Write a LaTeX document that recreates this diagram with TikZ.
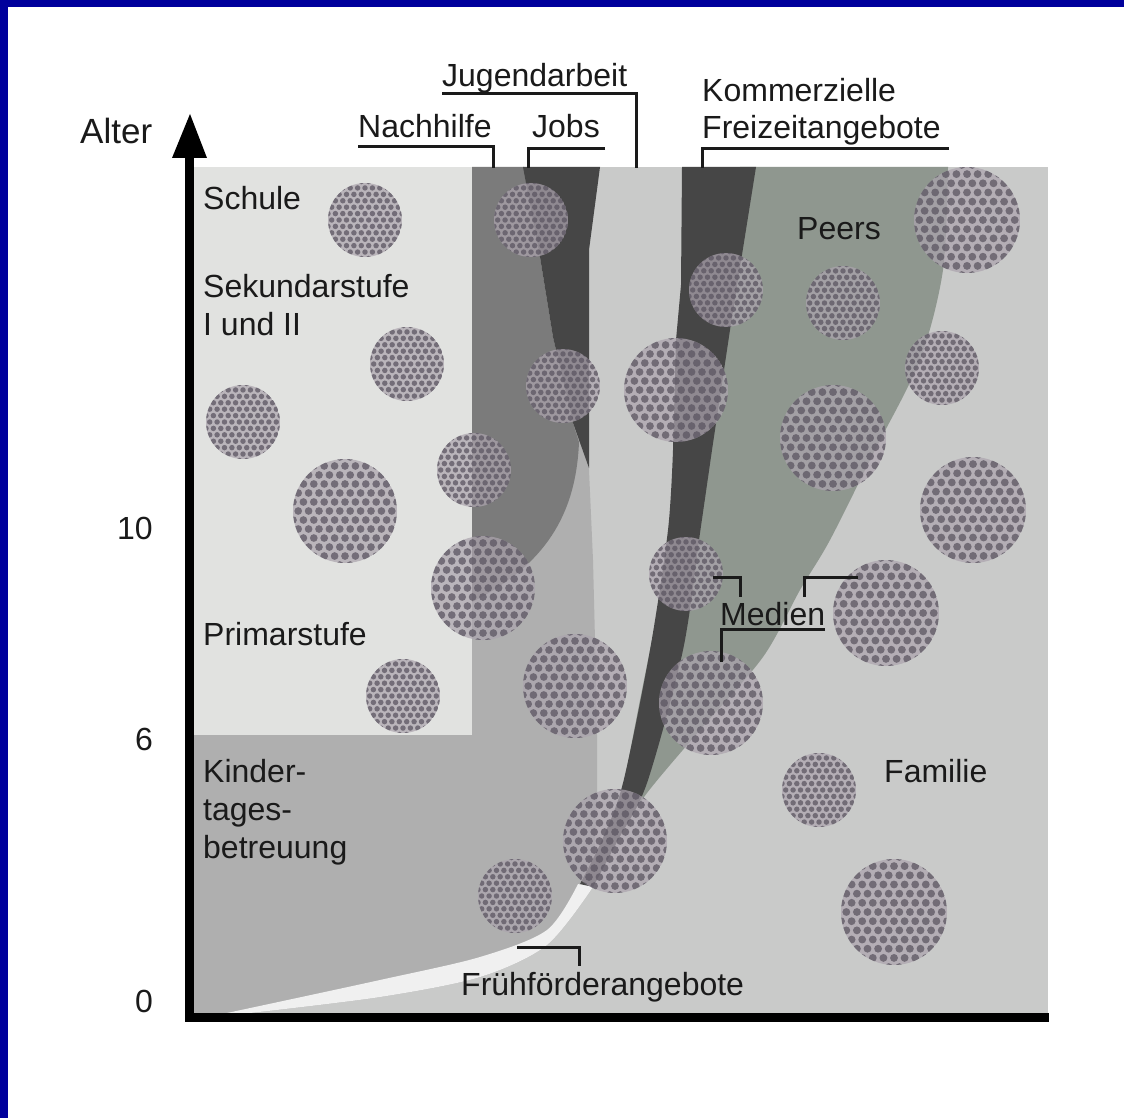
\documentclass[tikz,border=0pt]{standalone}
\usepackage{fontspec}
\setmainfont{Liberation Sans}
\definecolor{frame}{RGB}{0,0,156}
\definecolor{famc}{RGB}{201,202,201}
\definecolor{schc}{RGB}{225,226,224}
\definecolor{kitac}{RGB}{175,175,175}
\definecolor{nachc}{RGB}{123,123,123}
\definecolor{darkc}{RGB}{70,70,70}
\definecolor{peerc}{RGB}{143,151,143}
\definecolor{wbandc}{RGB}{240,240,240}
\definecolor{txt}{RGB}{26,26,26}
\definecolor{diskc}{RGB}{172,164,174}
\definecolor{cellc}{RGB}{92,86,98}
\newcommand\tdisk[3]{%
  \begin{scope}
    \pgfmathsetmacro\cellsp{#3/5}
    \pgfmathsetmacro\cellr{0.37*#3/5}
    \clip (#1,#2) circle[radius=#3];
    \fill[diskbase] (#1,#2) circle[radius=#3];
    \foreach \j in {0,...,14}{\foreach \i in {-7,...,6}{%
      \fill[cell] ({#1+\cellsp*(\i+0.5*mod(\j,2))},{#2+0.866*\cellsp*(\j-7)}) circle[radius=\cellr];}}
  \end{scope}}
\begin{document}
\begin{tikzpicture}[x=1pt,y=-1pt,
  lbl/.style={inner sep=0pt, anchor=base west, text=txt, font=\fontsize{32}{38}\selectfont},
  nums/.style={inner sep=0pt, anchor=base east, text=txt, font=\fontsize{32}{38}\selectfont},
  leader/.style={draw=txt, line width=3pt},
  diskbase/.style={fill=diskc, fill opacity=0.72},
  cell/.style={fill=cellc, fill opacity=0.75}]
\useasboundingbox (0,0) rectangle (1124,1118);
\fill[white] (0,0) rectangle (1124,1118);
\fill[frame] (0,0) rectangle (8,1118);
\fill[frame] (0,0) rectangle (1124,7);

% background regions
\fill[famc] (193,167) rectangle (1048,1013);
\fill[schc] (193,167) rectangle (475,735);
% Kindertagesbetreuung
\fill[kitac] (193,735) -- (472,735) -- (472,470) -- (585,430) -- (589,470) -- (593,560)
  -- (595,640) -- (597,735) -- (597,800) -- (593,887)
  -- plot[smooth] coordinates {(593,887) (547,945) (480,977) (380,997) (250,1013)}
  -- (193,1013) -- cycle;
% Nachhilfe
\fill[nachc] (472,167) -- (524,167) -- (540,257) -- (553,337) -- (573,423) -- (579,442)
  .. controls (576,515) and (545,565) .. (472,602) -- cycle;
% Jobs
\fill[darkc] (523,167) -- (600,167) -- (589,250) -- (589,468) -- (573,423) -- (553,337)
  -- (540,257) -- cycle;
% Peers
\fill[peerc] (740,167) -- (948,167)
  -- plot[smooth] coordinates {(948,167) (943,270) (920,360) (875,450) (830,540) (800,590)
     (763,657) (700,730) (647,793) (612,845)}
  -- (640,700) -- (680,500) -- (720,300) -- cycle;
% Kommerzielle Freizeitangebote
\fill[darkc] (682,167) -- (681,285) -- (676,340) -- (673,450)
  -- plot[smooth] coordinates {(673,450) (668,530) (650,650) (623,783) (602,840) (580,884)}
  -- (593,887)
  -- plot[smooth] coordinates {(593,887) (618,840) (647,783) (683,650) (700,533) (712,450)}
  -- (730,330) -- (756,167) -- cycle;
% Fruehfoerderangebote band
\fill[wbandc] plot[smooth] coordinates {(578,884) (547,930) (480,957) (380,980) (227,1013)}
  -- plot[smooth] coordinates {(250,1013) (380,997) (480,977) (547,945) (593,887)} -- cycle;

% textured disks
\tdisk{365}{220}{37}
\tdisk{531}{220}{37}
\tdisk{726}{290}{37}
\tdisk{843}{303}{37}
\tdisk{967}{220}{53}
\tdisk{407}{364}{37}
\tdisk{243}{422}{37}
\tdisk{563}{386}{37}
\tdisk{676}{390}{52}
\tdisk{942}{368}{37}
\tdisk{474}{470}{37}
\tdisk{345}{511}{52}
\tdisk{833}{438}{53}
\tdisk{973}{510}{53}
\tdisk{483}{588}{52}
\tdisk{686}{574}{37}
\tdisk{886}{613}{53}
\tdisk{575}{686}{52}
\tdisk{403}{696}{37}
\tdisk{711}{703}{52}
\tdisk{819}{790}{37}
\tdisk{615}{841}{52}
\tdisk{515}{896}{37}
\tdisk{894}{912}{53}

% axes
\draw[line width=9pt] (189.5,1017) -- (189.5,150);
\fill (172,158) -- (190,114) -- (207,158) -- cycle;
\draw[line width=9pt] (185,1017) -- (1049,1017);

% axis labels
\node[lbl, font=\fontsize{35}{40}\selectfont] (alter) at (80,144) {Alter};
\node[nums] (n10) at (153,539) {10};
\node[nums] (n6) at (153,750) {6};
\node[nums] (n0) at (153,1012) {0};

% region labels
\node[lbl] (schule) at (203,210) {Schule};
\node[lbl] (sek1) at (203,297) {Sekundarstufe};
\node[lbl] (sek2) at (203,335) {I und II};
\node[lbl] (prim) at (203,645) {Primarstufe};
\node[lbl] (kita1) at (203,782) {Kinder-};
\node[lbl] (kita2) at (203,820) {tages-};
\node[lbl] (kita3) at (203,858) {betreuung};
\node[lbl] (peers) at (797,240) {Peers};
\node[lbl] (familie) at (884,782) {Familie};
\node[lbl] (frueh) at (461,995) {Frühförderangebote};
\node[lbl] (medien) at (720,625) {Medien};

% top labels
\node[lbl] (jugend) at (442,87) {Jugendarbeit};
\node[lbl] (nachh) at (358,138) {Nachhilfe};
\node[lbl] (jobs) at (532,138) {Jobs};
\node[lbl] (komm1) at (702,102) {Kommerzielle};
\node[lbl] (komm2) at (702,139) {Freizeitangebote};

% leaders
\draw[leader] (358,147) -- (493,147) -- (493,168);
\draw[leader] (605,149) -- (528,149) -- (528,168);
\draw[leader] (442,94) -- (636,94) -- (636,168);
\draw[leader] (949,149) -- (702,149) -- (702,168);
\draw[leader] (517,947) -- (579,947) -- (579,966);
\draw[leader] (713,577) -- (740,577) -- (740,597);
\draw[leader] (804,597) -- (804,577) -- (858,577);
\draw[leader] (825,629) -- (721,629) -- (721,662);
\end{tikzpicture}
\end{document}
